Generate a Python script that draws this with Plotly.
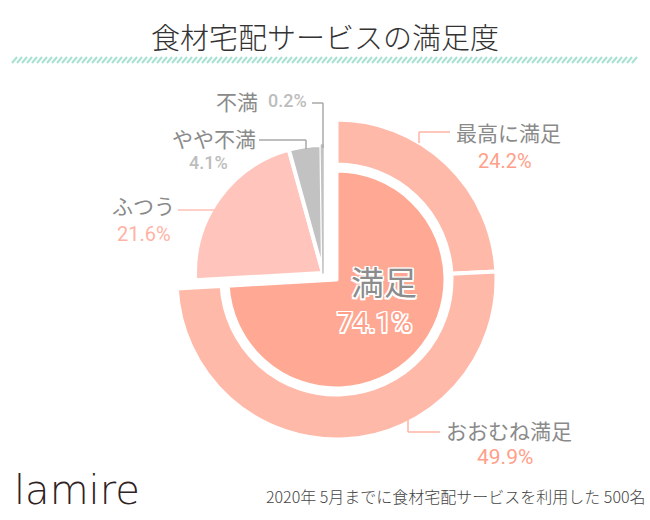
import plotly.graph_objects as go

W, H = 650, 520

# ---- data ----
title_text = "食材宅配サービスの満足度"
sat_labels = ["最高に満足", "おおむね満足"]
sat_values = [24.2, 49.9]
sat_total_label = "満足"
sat_total_value = 74.1
other_labels = ["ふつう", "やや不満", "不満"]
other_values = [21.6, 4.1, 0.2]
footnote = "2020年 5月までに食材宅配サービスを利用した 500名"
brand = "lamire"

# ---- styling ----
C_RING = "#FFB9A9"
C_INNER = "#FFA893"
C_FUTSU = "#FFC5BC"
C_GRAY = "#C2C2C2"
C_LABEL = "#8A8A8A"
C_PCT = "#FFA08A"
C_PCT_LIGHT = "#FFB3A5"
C_PCT_GRAY = "#BDBDBD"
C_LINE_SAL = "#FFB5A5"
C_LINE_GRAY = "#A9A9A9"
TRANSP = "rgba(0,0,0,0)"


def px(x):
    return x / W


def py(y):
    return 1 - y / H


def dom(cx, cy, r):
    return dict(x=[px(cx - r), px(cx + r)], y=[py(cy + r), py(cy - r)])


rest_sat = 100 - sum(sat_values)
rest_other = 100 - sum(other_values)

SC = (336.5, 279.5)
OC = (323, 273)

fig = go.Figure()

# outer ring: 最高に満足 / おおむね満足
fig.add_trace(go.Pie(
    values=sat_values + [rest_sat],
    labels=sat_labels + ["_rest"],
    sort=False, direction="clockwise", rotation=0,
    hole=115 / 160,
    marker=dict(colors=[C_RING, C_RING, TRANSP],
                line=dict(color=["white", "white", TRANSP], width=[4, 4, 0])),
    textinfo="none", hoverinfo="skip", showlegend=False,
    domain=dom(SC[0], SC[1], 160),
))

# inner pie: 満足
fig.add_trace(go.Pie(
    values=[sat_total_value, 100 - sat_total_value],
    labels=[sat_total_label, "_rest2"],
    sort=False, direction="clockwise", rotation=0,
    marker=dict(colors=[C_INNER, TRANSP],
                line=dict(color=["white", TRANSP], width=[4, 0])),
    textinfo="none", hoverinfo="skip", showlegend=False,
    domain=dom(SC[0], SC[1], 109),
))

# other group: ふつう / やや不満 / 不満
fig.add_trace(go.Pie(
    values=[rest_other] + other_values,
    labels=["_rest3"] + other_labels,
    sort=False, direction="clockwise", rotation=0,
    marker=dict(colors=[TRANSP, C_FUTSU, C_GRAY, C_GRAY],
                line=dict(color=[TRANSP, "white", "white", C_GRAY],
                          width=[0, 4, 4, 1.5])),
    textinfo="none", hoverinfo="skip", showlegend=False,
    domain=dom(OC[0], OC[1], 128),
))

shapes = []

# striped band under title
x = 12
while x < 636:
    shapes.append(dict(type="line", xref="paper", yref="paper",
                       x0=px(x), y0=py(63), x1=px(x + 5), y1=py(57),
                       line=dict(color="#A8E2D2", width=2)))
    x += 5


def polyline(pts, color):
    for (x0, y0), (x1, y1) in zip(pts[:-1], pts[1:]):
        shapes.append(dict(type="line", xref="paper", yref="paper",
                           x0=px(x0), y0=py(y0), x1=px(x1), y1=py(y1),
                           line=dict(color=color, width=1.5)))


polyline([(450, 132), (419, 132), (419, 143)], C_LINE_SAL)
polyline([(440, 432), (408, 432), (408, 420)], C_LINE_SAL)
polyline([(178, 210), (215, 210)], "#FFC0B5")
polyline([(259, 140), (306, 140), (306, 149)], C_LINE_GRAY)
polyline([(312, 103), (323, 103), (323, 148)], C_LINE_GRAY)

JP = "Noto Sans CJK JP"
NUM = "Roboto"
ann = []


def text(x, y, s, size, color, family=JP, xanchor="center", weight=None, shadow=None):
    f = dict(size=size, color=color, family=family)
    if weight:
        f["weight"] = weight
    if shadow:
        f["shadow"] = shadow
    ann.append(dict(x=px(x), y=py(y), xref="paper", yref="paper", text=s,
                    showarrow=False, xanchor=xanchor, yanchor="middle", font=f))


text(325, 36, title_text, 29, "#333333", weight=300)
text(508, 132, sat_labels[0], 21, C_LABEL)
text(505, 161, f"{sat_values[0]}%", 20, C_PCT, NUM)
text(509, 430, sat_labels[1], 21, C_LABEL)
text(505, 457, f"{sat_values[1]}%", 21, C_PCT, NUM)
text(177, 205, other_labels[0], 21, C_LABEL, xanchor="right")
text(173, 234, f"{other_values[0]}%", 20, C_PCT_LIGHT, NUM, xanchor="right")
text(258, 138, other_labels[1], 21, C_LABEL, xanchor="right")
text(208, 162, f"{other_values[1]}%", 18, C_PCT_GRAY, NUM, weight=500)
text(260, 101, other_labels[2], 21, C_LABEL, xanchor="right")
text(287, 101, f"{other_values[2]}%", 18, C_PCT_GRAY, NUM, weight=500)

outline = "1.5px 1.5px 0 #fff, -1.5px -1.5px 0 #fff, 1.5px -1.5px 0 #fff, -1.5px 1.5px 0 #fff, 0 1.5px 0 #fff, 0 -1.5px 0 #fff, 1.5px 0 0 #fff, -1.5px 0 0 #fff"
text(384, 281, sat_total_label, 33, "#8C8C8C", shadow=outline)
text(375, 322, f"{sat_total_value}%", 28, C_PCT, NUM, shadow=outline)

text(12, 490, brand, 40, "#2E2222", "DejaVu Sans", xanchor="left", weight=200)
text(648, 496, footnote, 16, "#444444", xanchor="right", weight=300)

fig.update_layout(
    width=W, height=H,
    margin=dict(l=0, r=0, t=0, b=0),
    paper_bgcolor="white", plot_bgcolor="white",
    shapes=shapes, annotations=ann,
    showlegend=False,
)

fig.write_html("out.html")
